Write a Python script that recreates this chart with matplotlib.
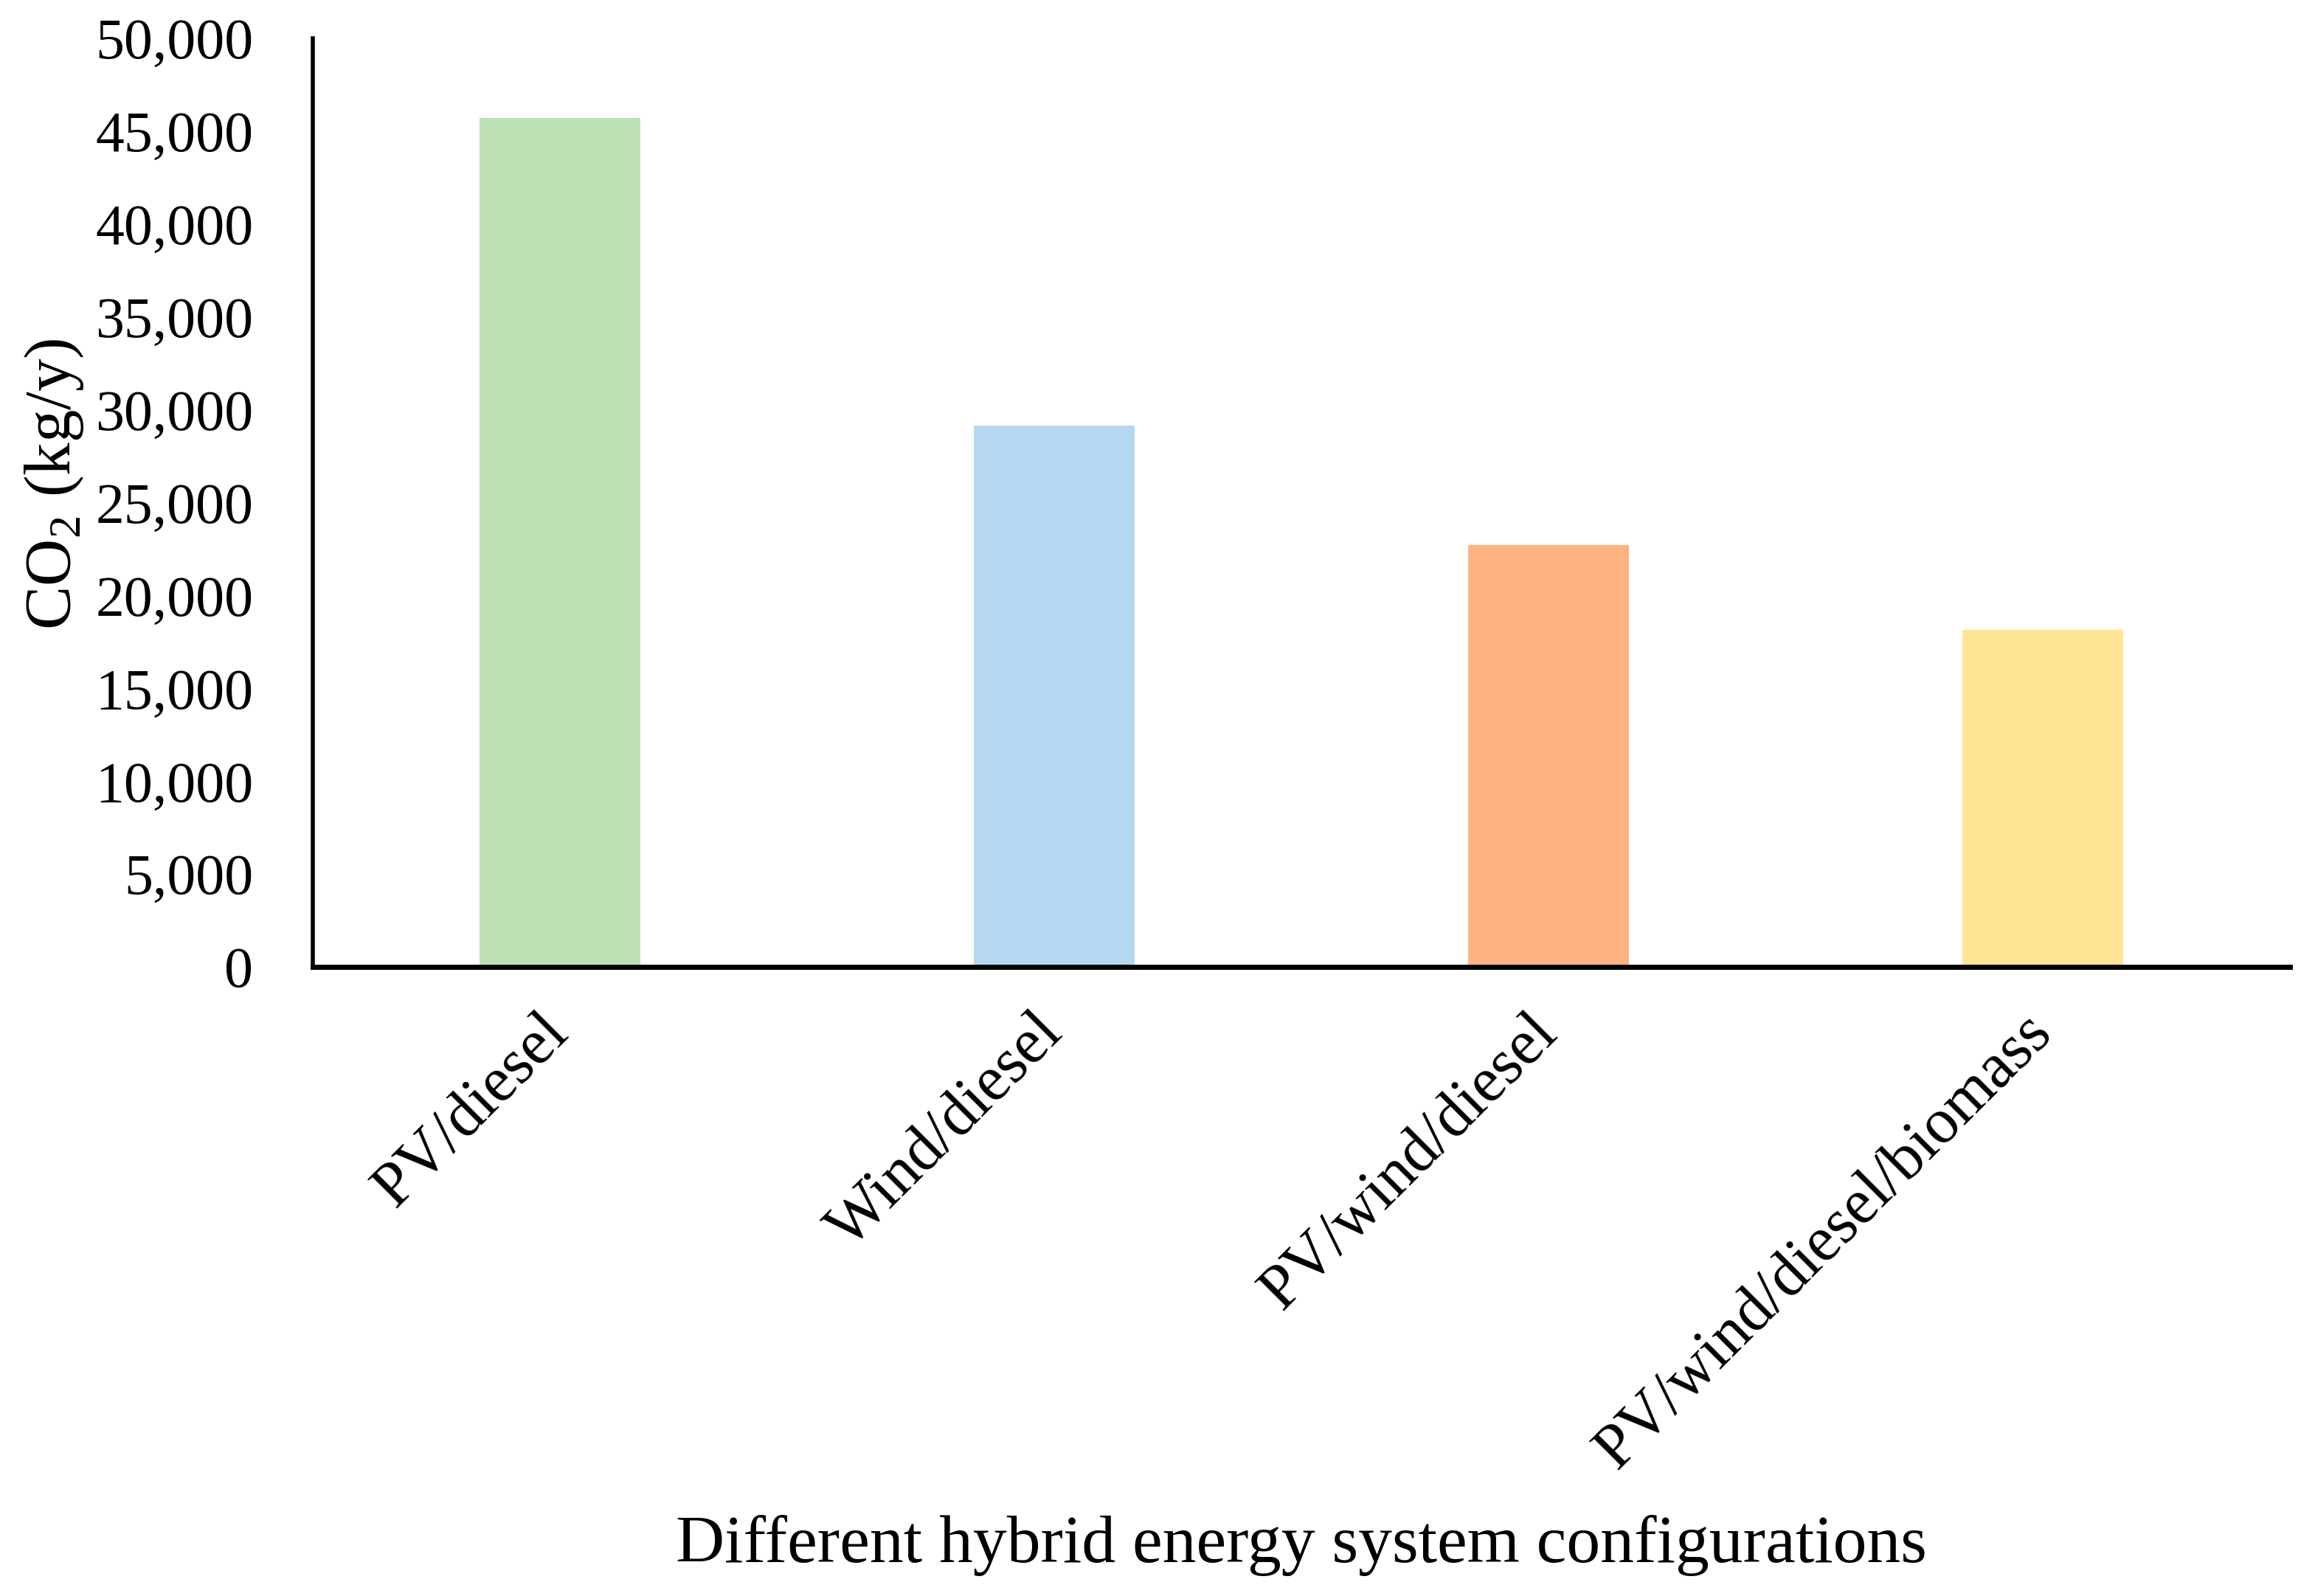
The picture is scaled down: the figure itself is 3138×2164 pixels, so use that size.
import matplotlib.pyplot as plt

configs = ['PV/diesel', 'Wind/diesel', 'PV/wind/diesel', 'PV/wind/diesel/biomass']
co2 = [45700, 29150, 22700, 18150]
colors = ['#BBE1B4', '#B4D8EF', '#FFB383', '#FFE494']
yticks = list(range(0, 50001, 5000))

plt.rcParams['font.family'] = ['Liberation Serif', 'DejaVu Serif']
plt.rcParams['mathtext.fontset'] = 'custom'
plt.rcParams['mathtext.rm'] = 'Liberation Serif'

fig = plt.figure(figsize=(15.69, 10.82), dpi=200)
ax = fig.add_axes([0.1351, 0.3942, 0.8541, 0.5818])

x = range(len(configs))
ax.bar(x, co2, width=0.325, color=colors)

ax.set_xlim(-0.5, len(configs) - 0.5)
ax.set_ylim(0, 50000)
ax.set_yticks(yticks)
ax.set_yticklabels([f'{v:,}' for v in yticks], fontsize=28)
ax.set_xticks(list(x))
ax.set_xticklabels(configs, fontsize=31, rotation=45, ha='right', va='center',
                   rotation_mode='anchor')
ax.tick_params(axis='y', length=0, pad=29)
ax.tick_params(axis='x', length=0, pad=28)

for s in ['top', 'right']:
    ax.spines[s].set_visible(False)
ax.spines['left'].set_linewidth(2.0)
ax.spines['bottom'].set_linewidth(2.5)

ax.set_ylabel(r'CO$_2$ (kg/y)', fontsize=32)
ax.yaxis.set_label_coords(-0.115, 0.52)
ax.set_xlabel('Different hybrid energy system configurations', fontsize=33)
ax.xaxis.set_label_coords(0.5, -0.59)

fig.savefig('out.png', dpi=200)
